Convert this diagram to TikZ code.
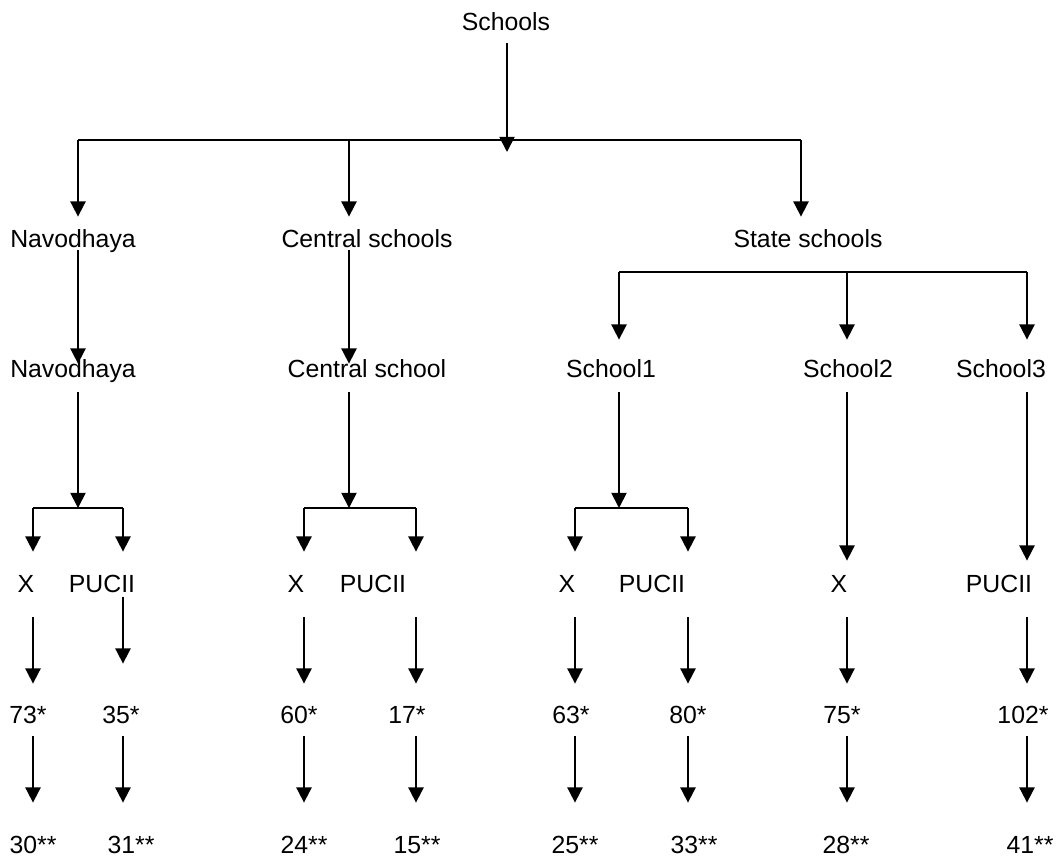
\documentclass[tikz,border=0pt]{standalone}
\usepackage{fontspec}
\setmainfont{Liberation Sans}
\usetikzlibrary{arrows.meta}

\begin{document}
\begin{tikzpicture}[x=0.5pt,y=-0.5pt,
  txt/.style={inner sep=0pt,anchor=base,text height=9pt,text depth=0pt,font=\fontsize{12.4}{15}\selectfont},
  arr/.style={-{Triangle[length=7.6pt,width=7.6pt]},line width=0.9pt},
  ln/.style={line width=0.9pt}]
\useasboundingbox (0,0) rectangle (1062,858);
% columns of the arrows
\coordinate (kTop) at (507,0);
\coordinate (kNav) at (78,0);
\coordinate (kCen) at (349,0);
\coordinate (kSta) at (801,0);
\coordinate (kS1) at (619,0);
\coordinate (kS2) at (847,0);
\coordinate (kS3) at (1027,0);
\coordinate (kNX) at (33,0);
\coordinate (kNP) at (123,0);
\coordinate (kCX) at (304,0);
\coordinate (kCP) at (416,0);
\coordinate (kSX) at (575,0);
\coordinate (kSP) at (688,0);
% bracket joints
\coordinate (b0) at (507,140);
\coordinate (b2) at (847,272);
\coordinate (bN) at (78,508);
\coordinate (bC) at (349,508);
\coordinate (bS) at (619,508);
% texts
\node[txt] (schools) at (506,30) {Schools};
\node[txt] (nav1) at (73,247) {Navodhaya};
\node[txt] (cen1) at (367,247) {Central schools};
\node[txt] (sta1) at (808,247) {State schools};
\node[txt] (nav2) at (73,377) {Navodhaya};
\node[txt] (cen2) at (367,377) {Central school};
\node[txt] (sch1) at (611,377) {School1};
\node[txt] (sch2) at (848,377) {School2};
\node[txt] (sch3) at (1001,377) {School3};
\node[txt] (nX) at (26,592) {X};
\node[txt] (nP) at (102,592) {PUCII};
\node[txt] (cX) at (296,592) {X};
\node[txt] (cP) at (373,592) {PUCII};
\node[txt] (sX) at (567,592) {X};
\node[txt] (sP) at (652,592) {PUCII};
\node[txt] (xTwo) at (839,592) {X};
\node[txt] (pThree) at (999,592) {PUCII};
\node[txt] (v73) at (28,723) {73*};
\node[txt] (v35) at (121,723) {35*};
\node[txt] (v60) at (299,723) {60*};
\node[txt] (v17) at (407,723) {17*};
\node[txt] (v63) at (571,723) {63*};
\node[txt] (v80) at (688,723) {80*};
\node[txt] (v75) at (842,723) {75*};
\node[txt] (v102) at (1023,723) {102*};
\node[txt] (w30) at (33,853) {30**};
\node[txt] (w31) at (131,853) {31**};
\node[txt] (w24) at (304,853) {24**};
\node[txt] (w15) at (417,853) {15**};
\node[txt] (w25) at (575,853) {25**};
\node[txt] (w33) at (694,853) {33**};
\node[txt] (w28) at (846,853) {28**};
\node[txt] (w41) at (1030,853) {41**};
% top level
\draw[arr,shorten <=6.5pt,shorten >=-6pt] (schools.south -| kTop) -- (b0);
\draw[ln] (kNav |- b0) -- (kSta |- b0);
\foreach \n/\k in {nav1/kNav,cen1/kCen,sta1/kSta}
  \draw[arr,shorten >=6pt] (\k |- b0) -- (\n.north -| \k);
\foreach \a/\b/\k in {nav1/nav2/kNav,cen1/cen2/kCen}
  \draw[arr,shorten <=1.5pt,shorten >=-2.5pt] (\a.south -| \k) -- (\b.north -| \k);
% state schools
\draw[ln] (kS1 |- b2) -- (kS3 |- b2);
\foreach \n/\k in {sch1/kS1,sch2/kS2,sch3/kS3}
  \draw[arr,shorten >=9.5pt] (\k |- b2) -- (\n.north -| \k);
% second brackets
\foreach \a/\b/\k in {nav2/bN/kNav,cen2/bC/kCen,sch1/bS/kS1}
  \draw[arr,shorten <=7.5pt] (\a.south -| \k) -- (\b);
\draw[arr,shorten <=7.5pt,shorten >=6.5pt] (sch2.south -| kS2) -- (xTwo.north -| kS2);
\draw[arr,shorten <=7.5pt,shorten >=6.5pt] (sch3.south -| kS3) -- (pThree.north -| kS3);
\foreach \b/\l/\r in {bN/kNX/kNP,bC/kCX/kCP,bS/kSX/kSP}
  \draw[ln] (\l |- \b) -- (\r |- \b);
\foreach \b/\n/\k in {bN/nX/kNX,bN/nP/kNP,bC/cX/kCX,bC/cP/kCP,bS/sX/kSX,bS/sP/kSP}
  \draw[arr,shorten >=11pt] (\k |- \b) -- (\n.north -| \k);
% counts
\draw[arr,shorten <=2.5pt,shorten >=20.5pt] (nP.south -| kNP) -- (v35.north -| kNP);
\foreach \a/\b/\k in {nX/v73/kNX,cX/v60/kCX,cP/v17/kCP,sX/v63/kSX,sP/v80/kSP,xTwo/v75/kS2,pThree/v102/kS3}
  \draw[arr,shorten <=12.5pt,shorten >=10.5pt] (\a.south -| \k) -- (\b.north -| \k);
\foreach \a/\b/\k in {v73/w30/kNX,v35/w31/kNP,v60/w24/kCX,v17/w15/kCP,v63/w25/kSX,v80/w33/kSP,v75/w28/kS2,v102/w41/kS3}
  \draw[arr,shorten <=6.5pt,shorten >=16pt] (\a.south -| \k) -- (\b.north -| \k);
\end{tikzpicture}
\end{document}
